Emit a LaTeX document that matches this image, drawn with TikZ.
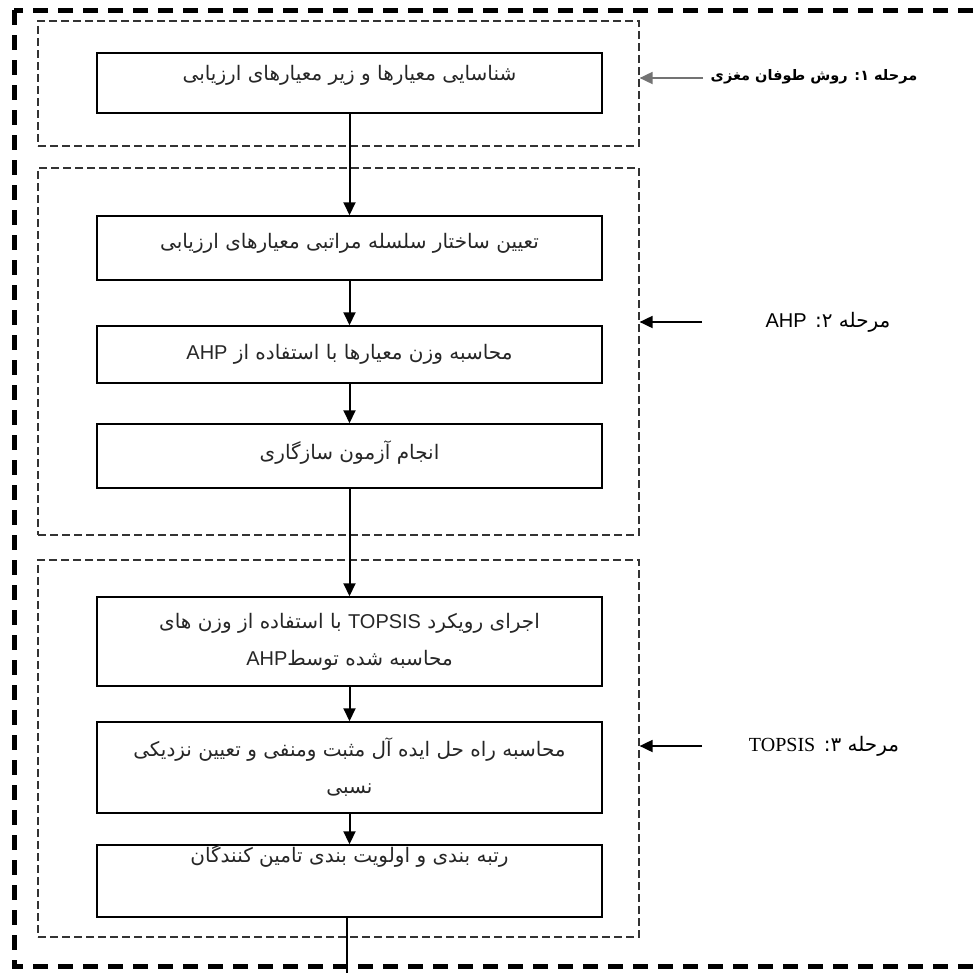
\documentclass[tikz,border=0pt]{standalone}
\usepackage{fontspec}
\setmainfont{Liberation Sans}
\newfontfamily\arabicfont[Script=Arabic]{DejaVu Sans}
\newfontfamily\latinserif{Liberation Serif}
\TeXXeTstate=1
\usetikzlibrary{arrows.meta}

\begin{document}
\begin{tikzpicture}[x=1pt,y=-1pt,line width=1.4pt,>={Triangle[length=13pt,width=12pt]},
  stepbox/.style={draw,line width=1.5pt,minimum width=505pt,align=center,inner sep=0pt,
    font=\arabicfont\fontsize{20}{37}\selectfont,text=black!85},
  stagebox/.style={draw=black!80,line width=1.2pt,dash pattern=on 8pt off 4pt,minimum width=601pt},
  stagelabel/.style={font=\arabicfont\fontsize{20}{24}\selectfont},
  flow/.style={->,line width=2pt},
  stagearrow/.style={->,line width=1.8pt}]
  \useasboundingbox (0,0) rectangle (980,972);
  % ============ marco exterior ============
  \draw[line width=5pt,dash pattern=on 15pt off 10pt] (14,10) rectangle (1000,966);
  % ============ etapas (cajas punteadas) ============
  \node[stagebox,minimum height=125pt] (s1) at (338.5,83.5) {};
  \node[stagebox,minimum height=367pt] (s2) at (338.5,351.5) {};
  \node[stagebox,minimum height=377pt] (s3) at (338.5,748.5) {};
  % ============ pasos ============
  \node[stepbox,minimum height=60pt,text depth=20pt] (n1) at (349.5,83)
    {\beginR شناسایی معیارها و زیر معیارهای ارزیابی\endR};
  \node[stepbox,minimum height=64pt,text depth=14pt] (n2) at (349.5,248)
    {\beginR تعیین ساختار سلسله مراتبی معیارهای ارزیابی\endR};
  \node[stepbox,minimum height=57pt] (n3) at (349.5,354.5)
    {\beginR محاسبه وزن معیارها با استفاده از \beginL{\fontspec{Liberation Sans}AHP}\endL\endR};
  \node[stepbox,minimum height=64pt,text depth=12pt] (n4) at (349.5,456)
    {\beginR انجام آزمون سازگاری\endR};
  \node[stepbox,minimum height=89pt] (n5) at (349.5,641.5)
    {\beginR اجرای رویکرد \beginL{\fontspec{Liberation Sans}TOPSIS}\endL{} با استفاده از وزن های\endR\\
     \beginR محاسبه شده توسط\beginL{\fontspec{Liberation Sans}AHP}\endL\endR};
  \node[stepbox,minimum height=91pt] (n6) at (349.5,767.5)
    {\beginR محاسبه راه حل ایده آل مثبت ومنفی و تعیین نزدیکی\endR\\
     \beginR نسبی\endR};
  \node[stepbox,minimum height=70pt,text depth=54pt] (n7) at (349.5,881)
    {\beginR رتبه بندی و اولویت بندی تامین کنندگان\endR};
  \coordinate (out) at (347,990);
  % ---------- flechas entre pasos ----------
  \draw[flow] (n1) -- (n2);
  \draw[flow] (n2) -- (n3);
  \draw[flow] (n3) -- (n4);
  \draw[flow] (n4) -- (n5);
  \draw[flow] (n5) -- (n6);
  \draw[flow] (n6) -- (n7);
  \draw[line width=1.5pt] (n7.south -| out) -- (out);
  % ============ rotulos de etapas ============
  \node[stagelabel,font=\arabicfont\bfseries\fontsize{14.5}{18}\selectfont] (lab1) at (814,77)
    {\beginR مرحله ۱\kern0pt: روش طوفان مغزی\endR};
  \node[stagelabel] (lab2) at (828,322)
    {\beginR مرحله ۲\kern0pt: \beginL{\fontspec{Liberation Sans}AHP}\endL\endR};
  \node[stagelabel] (lab3) at (824,746)
    {\beginR مرحله ۳\kern0pt: \beginL{\latinserif TOPSIS}\endL\endR};
  \coordinate (t1) at (703,78);
  \coordinate (t2) at (702,322);
  \coordinate (t3) at (702,746);
  \draw[stagearrow,black!55] (t1) -- (t1 -| s1.east);
  \draw[stagearrow] (t2) -- (t2 -| s2.east);
  \draw[stagearrow] (t3) -- (t3 -| s3.east);
\end{tikzpicture}
\end{document}
